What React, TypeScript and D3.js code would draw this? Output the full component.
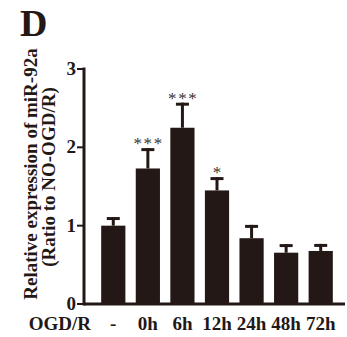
import React, { useEffect, useRef } from 'react';
import * as d3 from 'd3';

const groups = ['-', '0h', '6h', '12h', '24h', '48h', '72h'];
const means = [1.0, 1.73, 2.25, 1.45, 0.84, 0.655, 0.677];
const errors = [0.11, 0.26, 0.32, 0.17, 0.17, 0.11, 0.09];
const stars = ['', '***', '***', '*', '', '', ''];
const yTicks = [0, 1, 2, 3];

const ink = '#231815';
const font = '"Liberation Serif", "Times New Roman", serif';

const App = () => {
    const svgRef = useRef<SVGSVGElement>(null);

    useEffect(() => {
        const svg = d3.select(svgRef.current);
        svg.selectAll('*').remove();

        const x = d3.scaleBand()
            .domain(groups)
            .range([96, 338])
            .paddingInner(0.3)
            .paddingOuter(0.15);

        const y = d3.scaleLinear()
            .domain([0, 3])
            .range([304, 69]);

        const axisX = 84;
        const data = groups.map((g, i) => ({ g, m: means[i], e: errors[i], s: stars[i] }));

        // bars
        svg.selectAll('rect.bar')
            .data(data)
            .enter()
            .append('rect')
            .attr('class', 'bar')
            .attr('x', (d) => x(d.g)!)
            .attr('y', (d) => y(d.m))
            .attr('width', x.bandwidth())
            .attr('height', (d) => y(0) - y(d.m))
            .attr('fill', ink);

        // error bars (upper only)
        const eb = svg.selectAll('g.err')
            .data(data)
            .enter()
            .append('g')
            .attr('class', 'err')
            .attr('transform', (d) => `translate(${x(d.g)! + x.bandwidth() / 2},0)`);

        eb.append('line')
            .attr('x1', 0).attr('x2', 0)
            .attr('y1', (d) => y(d.m))
            .attr('y2', (d) => y(d.m + d.e))
            .attr('stroke', ink)
            .attr('stroke-width', 3);

        eb.append('line')
            .attr('x1', -6.5).attr('x2', 6.5)
            .attr('y1', (d) => y(d.m + d.e) + 1.5)
            .attr('y2', (d) => y(d.m + d.e) + 1.5)
            .attr('stroke', ink)
            .attr('stroke-width', 3);

        eb.append('text')
            .text((d) => d.s)
            .attr('x', 0.8)
            .attr('y', (d) => y(d.m + d.e) + 1)
            .attr('text-anchor', 'middle')
            .style('font-family', font)
            .style('font-size', '17px')
            .style('letter-spacing', '1.6px')
            .attr('fill', '#3a3330');

        // axes
        svg.append('line')
            .attr('x1', axisX).attr('x2', axisX)
            .attr('y1', y(3) - 1.5).attr('y2', y(0) + 1.5)
            .attr('stroke', ink).attr('stroke-width', 3);

        svg.append('line')
            .attr('x1', axisX).attr('x2', 345)
            .attr('y1', y(0)).attr('y2', y(0))
            .attr('stroke', ink).attr('stroke-width', 3);

        svg.selectAll('line.ytick')
            .data(yTicks)
            .enter()
            .append('line')
            .attr('class', 'ytick')
            .attr('x1', axisX - 7).attr('x2', axisX)
            .attr('y1', (d) => y(d)).attr('y2', (d) => y(d))
            .attr('stroke', ink).attr('stroke-width', 2);

        svg.selectAll('text.ylab')
            .data(yTicks)
            .enter()
            .append('text')
            .attr('class', 'ylab')
            .text((d) => d)
            .attr('x', axisX - 8)
            .attr('y', (d) => y(d) + 6)
            .attr('text-anchor', 'end')
            .style('font-family', font)
            .style('font-weight', 'bold')
            .style('font-size', '19px')
            .attr('fill', ink);

        svg.selectAll('text.xlab')
            .data(groups)
            .enter()
            .append('text')
            .attr('class', 'xlab')
            .text((d) => d)
            .attr('x', (d) => x(d)! + x.bandwidth() / 2)
            .attr('y', 330)
            .attr('text-anchor', 'middle')
            .style('font-family', font)
            .style('font-weight', 'bold')
            .style('font-size', '19px')
            .attr('fill', ink);

        svg.append('text')
            .text('OGD/R')
            .attr('x', 91)
            .attr('y', 330)
            .attr('text-anchor', 'end')
            .style('font-family', font)
            .style('font-weight', 'bold')
            .style('font-size', '19px')
            .attr('fill', ink);

        // y axis title
        const yTitle = svg.append('g')
            .style('font-family', font)
            .style('font-weight', 'bold')
            .style('font-size', '19px')
            .attr('fill', ink);

        yTitle.append('text')
            .text('Relative expression of miR-92a')
            .attr('transform', 'translate(37,174) rotate(-90)')
            .attr('text-anchor', 'middle');

        yTitle.append('text')
            .text('(Ratio to NO-OGD/R)')
            .attr('transform', 'translate(55,177) rotate(-90)')
            .attr('text-anchor', 'middle');

        // panel letter
        svg.append('text')
            .text('D')
            .attr('x', 20)
            .attr('y', 36)
            .style('font-family', font)
            .style('font-weight', 'bold')
            .style('font-size', '38px')
            .attr('fill', ink);
    }, []);

    return (
        <svg
            ref={svgRef}
            width={347}
            height={337}
            style={{ position: 'absolute', left: 0, top: 0, background: '#fff' }}
        />
    );
};

export default App;
